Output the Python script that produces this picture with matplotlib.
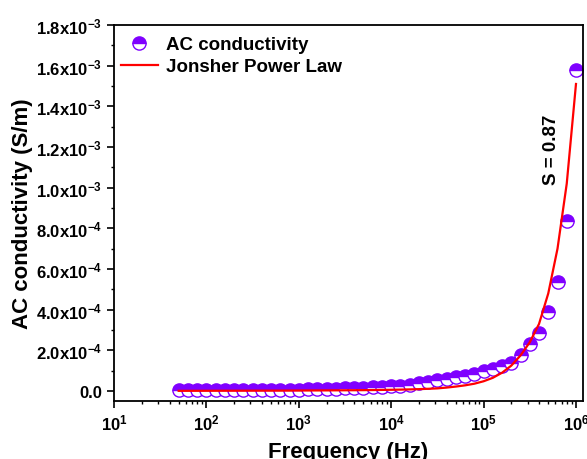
import numpy as np
import matplotlib
matplotlib.use('Agg')
import matplotlib.pyplot as plt
from matplotlib.ticker import FixedLocator, FixedFormatter, LogLocator, NullFormatter

plt.rcParams['font.family'] = ['Liberation Sans', 'DejaVu Sans']
plt.rcParams['font.weight'] = 'bold'
plt.rcParams['mathtext.fontset'] = 'custom'
plt.rcParams['mathtext.rm'] = 'Liberation Sans:bold'
plt.rcParams['mathtext.it'] = 'Liberation Sans:bold'
plt.rcParams['mathtext.bf'] = 'Liberation Sans:bold'
plt.rcParams['mathtext.default'] = 'rm'

# frequency (Hz) as log10 values
log_freq = [1.7, 1.8, 1.9, 2.0, 2.1, 2.2, 2.3, 2.4, 2.5, 2.6, 2.7, 2.8, 2.9, 3.0,
            3.1, 3.2, 3.3, 3.4, 3.5, 3.6, 3.7, 3.8, 3.9, 4.0, 4.1, 4.2, 4.3, 4.4,
            4.5, 4.6, 4.7, 4.8, 4.9, 5.0, 5.1, 5.2, 5.3, 5.4, 5.5, 5.6, 5.7, 5.8,
            5.9, 6.0]

# measured AC conductivity (S/m)
sigma_ac = [4.0e-6, 4.0e-6, 4.0e-6, 4.2e-6, 4.4e-6, 4.6e-6, 4.8e-6, 5.0e-6, 5.3e-6,
            5.6e-6, 6.0e-6, 6.4e-6, 6.9e-6, 7.5e-6, 8.2e-6, 9.0e-6, 1.0e-5, 1.1e-5,
            1.25e-5, 1.4e-5, 1.6e-5, 1.8e-5, 2.05e-5, 2.3e-5, 2.7e-5, 3.2e-5, 3.8e-5,
            4.5e-5, 5.2e-5, 5.9e-5, 6.7e-5, 7.5e-5, 8.6e-5, 9.8e-5, 1.08e-4, 1.24e-4,
            1.38e-4, 1.77e-4, 2.31e-4, 2.85e-4, 3.87e-4, 5.37e-4, 8.35e-4, 1.577e-3]

# Jonscher power law fit line (S/m)
sigma_fit = [1.0e-6, 1.1e-6, 1.2e-6, 1.3e-6, 1.4e-6, 1.5e-6, 1.6e-6, 1.7e-6, 1.8e-6,
             1.9e-6, 2.0e-6, 2.1e-6, 2.3e-6, 2.5e-6, 2.7e-6, 2.9e-6, 3.1e-6, 3.4e-6,
             3.7e-6, 4.0e-6, 4.4e-6, 4.9e-6, 5.5e-6, 6.2e-6, 7.0e-6, 8.0e-6, 9.3e-6,
             1.1e-5, 1.3e-5, 1.7e-5, 2.2e-5, 2.8e-5, 3.6e-5, 4.8e-5, 6.5e-5, 9.0e-5,
             1.25e-4, 1.75e-4, 2.4e-4, 3.3e-4, 4.8e-4, 7.0e-4, 1.02e-3, 1.51e-3]

y_ticks = [0.0, 2e-4, 4e-4, 6e-4, 8e-4, 1.0e-3, 1.2e-3, 1.4e-3, 1.6e-3, 1.8e-3]
y_labels = ['0.0', '2.0x10$^{-4}$', '4.0x10$^{-4}$', '6.0x10$^{-4}$', '8.0x10$^{-4}$',
            '1.0x10$^{-3}$', '1.2x10$^{-3}$', '1.4x10$^{-3}$', '1.6x10$^{-3}$', '1.8x10$^{-3}$']
x_ticks = [1e1, 1e2, 1e3, 1e4, 1e5, 1e6]
x_labels = ['10$^{1}$', '10$^{2}$', '10$^{3}$', '10$^{4}$', '10$^{5}$', '10$^{6}$']

freq = 10.0 ** np.array(log_freq)
purple = '#7F00FF'

fig = plt.figure(figsize=(5.87, 4.6), dpi=100)
ax = fig.add_axes([0.1942, 0.1261, 0.799, 0.8174])

ax.plot(freq, sigma_ac, linestyle='none', marker='o', markersize=9.5,
        fillstyle='top', markerfacecolor=purple, markerfacecoloralt='white',
        markeredgecolor=purple, markeredgewidth=1.0, label='AC conductivity', zorder=2)
ax.plot(freq, sigma_fit, color='red', linewidth=1.6, label='Jonsher Power Law', zorder=3)

ax.set_xscale('log')
ax.set_xlim(10, 10 ** 6.076)
ax.set_ylim(-4.9e-5, 1.8e-3)

ax.yaxis.set_major_locator(FixedLocator(y_ticks))
ax.yaxis.set_major_formatter(FixedFormatter(y_labels))
ax.yaxis.set_minor_locator(FixedLocator(np.arange(1e-4, 1.8e-3, 2e-4)))
ax.xaxis.set_major_locator(FixedLocator(x_ticks))
ax.xaxis.set_major_formatter(FixedFormatter(x_labels))
ax.xaxis.set_minor_locator(LogLocator(base=10, subs=np.arange(2, 10), numticks=20))
ax.xaxis.set_minor_formatter(NullFormatter())

ax.tick_params(which='major', direction='out', length=5, width=1.2, labelsize=12)
ax.tick_params(which='minor', direction='out', length=2.5, width=1.0)
ax.tick_params(top=False, right=False, which='both')
for sp in ax.spines.values():
    sp.set_linewidth(1.3)

ax.set_xlabel('Frequency (Hz)', fontsize=16, fontweight='bold', labelpad=6)
ax.set_ylabel('AC conductivity (S/m)', fontsize=16, fontweight='bold', labelpad=2)

ax.text(10 ** 5.74, 1.19e-3, 'S = 0.87', rotation=90, fontsize=13.5,
        fontweight='bold', ha='center', va='center')

leg = ax.legend(loc='upper left', bbox_to_anchor=(-0.014, 1.005), frameon=False,
                fontsize=13.5, handlelength=2.0, handletextpad=0.4,
                borderaxespad=0.3, labelspacing=0.25)

fig.savefig('out.png', dpi=100)
